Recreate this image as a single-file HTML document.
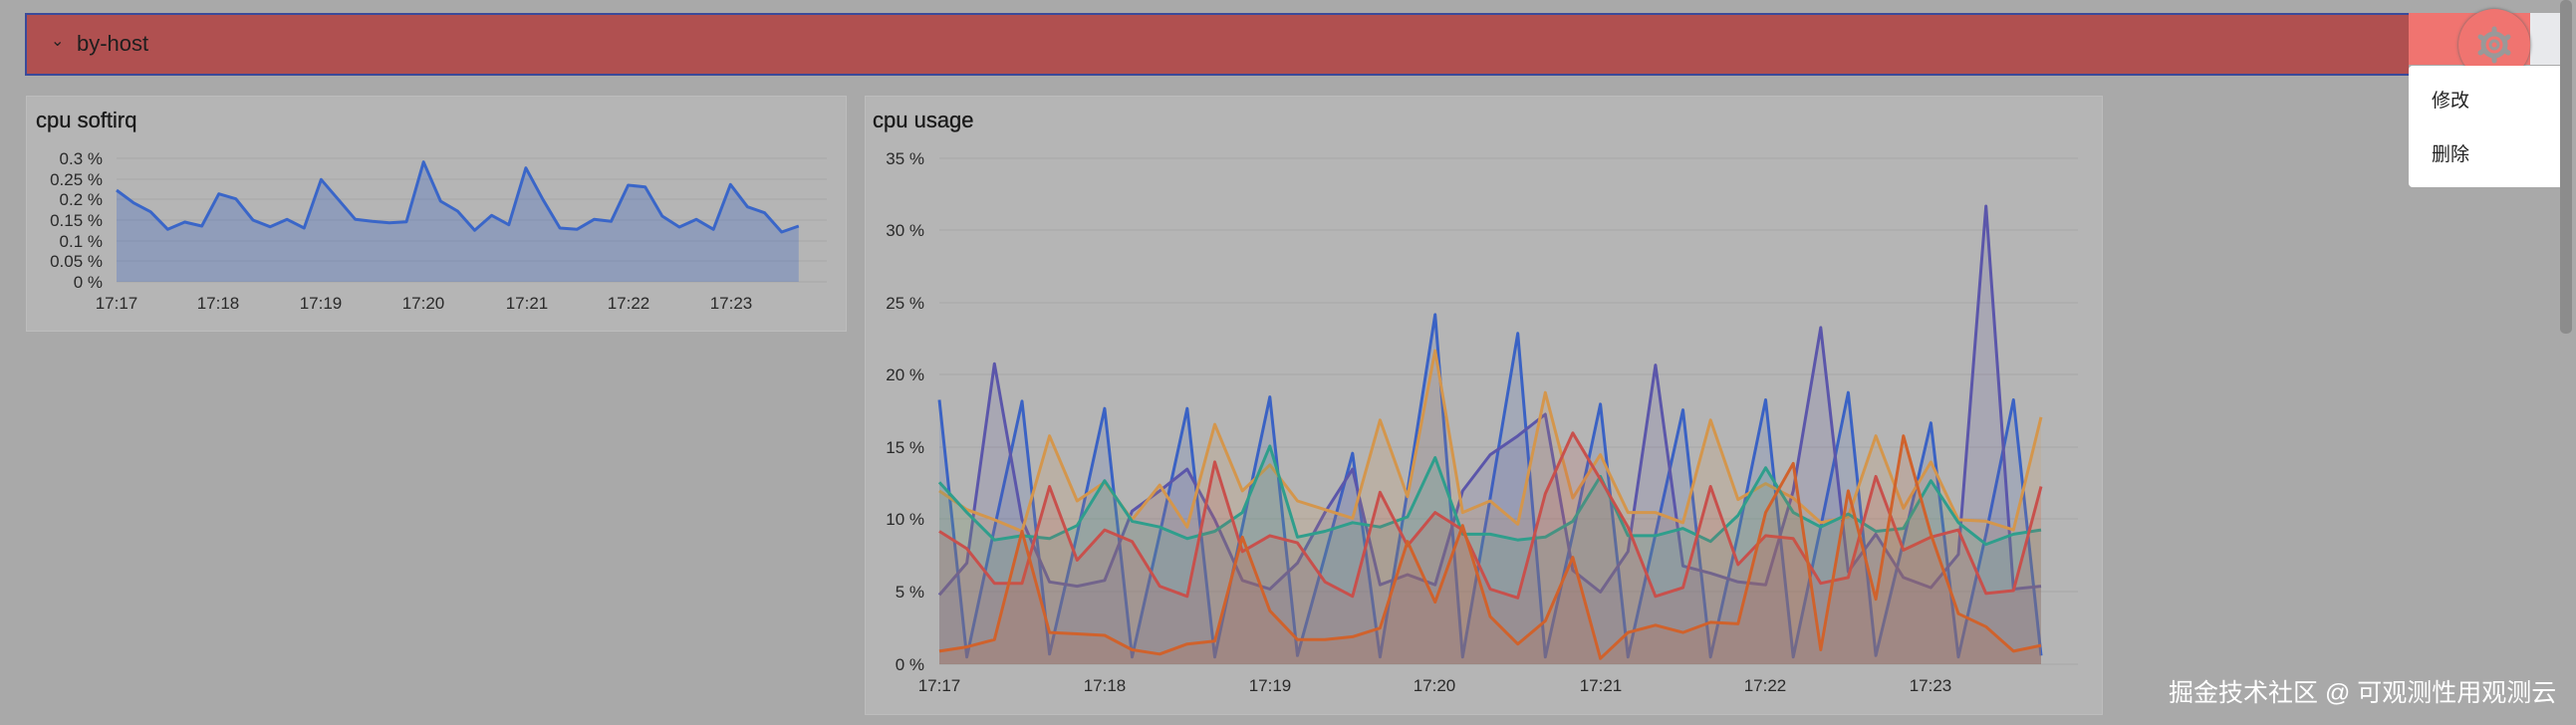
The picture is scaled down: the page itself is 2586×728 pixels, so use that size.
<!DOCTYPE html>
<html><head><meta charset="utf-8"><style>
body{margin:0;width:2586px;height:728px;background:#a9a9a9;position:relative;overflow:hidden;font-family:"Liberation Sans","Noto Sans CJK SC",sans-serif}
.hdr{position:absolute;left:25px;top:13px;width:2393px;height:63px;background:#b05050;border:2px solid #3a4a9a;border-right:none;box-sizing:border-box}
.hdr span{position:absolute;left:50px;top:16px;font-size:22px;color:#1e1e1e}
.hdr i{position:absolute;left:24px;top:16px;font-style:normal;font-size:16px;color:#222}
.pink{position:absolute;left:2418px;top:13px;width:122px;height:52px;background:#f07470}
.lgray{position:absolute;left:2540px;top:13px;width:30px;height:52px;background:#e8e9ec}
.gear{position:absolute;left:2468px;top:9px;width:72px;height:72px;border-radius:50%;background:#f07470;box-shadow:0 0 3px #666}
.menu{position:absolute;left:2418px;top:66px;width:160px;height:122px;background:#fff;border-radius:4px}
.menu div{position:absolute;left:23px;font-size:19px;color:#222}
.sb{position:absolute;left:2570px;top:0;width:12px;height:335px;background:#8c8c8c;border-radius:5px}
.panel{position:absolute;background:#b5b5b5;border:1px solid #bdbdbd}
.title{position:absolute;font-size:22px;color:#1a1a1a;-webkit-text-stroke:0.3px #1a1a1a}
svg text{font-family:"Liberation Sans",sans-serif;font-size:17px;fill:#2a2a2a}
.wm{position:absolute;left:2177px;top:676px;font-size:25px;color:#fff}
</style></head><body>
<div class="hdr"><i>⌄</i><span>by-host</span></div>
<div class="pink"></div><div class="lgray"></div>
<div class="gear"><svg width="72" height="72" viewBox="0 0 72 72"><circle cx="36" cy="36" r="11" fill="none" stroke="#999" stroke-width="5"/><circle cx="36" cy="36" r="4" fill="none" stroke="#999" stroke-width="3"/><g stroke="#999" stroke-width="5" stroke-linecap="round"><line x1="36" y1="20" x2="36" y2="23"/><line x1="36" y1="49" x2="36" y2="52"/><line x1="22" y1="28" x2="25" y2="30"/><line x1="47" y1="42" x2="50" y2="44"/><line x1="22" y1="44" x2="25" y2="42"/><line x1="47" y1="30" x2="50" y2="28"/></g></svg></div>
<div class="menu"><div style="top:20px">修改</div><div style="top:74px">删除</div></div>
<div class="sb"></div>

<div class="panel" style="left:26px;top:96px;width:822px;height:235px"></div>
<div class="title" style="left:36px;top:108px">cpu softirq</div>
<svg id="s1" style="position:absolute;left:0;top:0" width="860" height="340">
<g stroke="#a6a6a6" stroke-width="1">
<line x1="117" x2="830" y1="159" y2="159"/><line x1="117" x2="830" y1="180" y2="180"/><line x1="117" x2="830" y1="200" y2="200"/><line x1="117" x2="830" y1="221" y2="221"/><line x1="117" x2="830" y1="242" y2="242"/><line x1="117" x2="830" y1="262" y2="262"/><line x1="117" x2="830" y1="283" y2="283"/></g>
<g text-anchor="end"><text x="103" y="165">0.3 %</text><text x="103" y="186">0.25 %</text><text x="103" y="206">0.2 %</text><text x="103" y="227">0.15 %</text><text x="103" y="248">0.1 %</text><text x="103" y="268">0.05 %</text><text x="103" y="289">0 %</text></g>
<g text-anchor="middle"><text x="117" y="310">17:17</text><text x="219" y="310">17:18</text><text x="322" y="310">17:19</text><text x="425" y="310">17:20</text><text x="529" y="310">17:21</text><text x="631" y="310">17:22</text><text x="734" y="310">17:23</text></g>
</svg>

<div class="panel" style="left:868px;top:96px;width:1241px;height:620px"></div>
<div class="title" style="left:876px;top:108px">cpu usage</div>
<svg id="s2" style="position:absolute;left:0;top:0" width="2586" height="728">
<g stroke="#a6a6a6" stroke-width="1">
<line x1="943" x2="2086" y1="159" y2="159"/><line x1="943" x2="2086" y1="231" y2="231"/><line x1="943" x2="2086" y1="304" y2="304"/><line x1="943" x2="2086" y1="376" y2="376"/><line x1="943" x2="2086" y1="449" y2="449"/><line x1="943" x2="2086" y1="521" y2="521"/><line x1="943" x2="2086" y1="594" y2="594"/><line x1="943" x2="2086" y1="667" y2="667"/></g>
<g text-anchor="end"><text x="928" y="165">35 %</text><text x="928" y="237">30 %</text><text x="928" y="310">25 %</text><text x="928" y="382">20 %</text><text x="928" y="455">15 %</text><text x="928" y="527">10 %</text><text x="928" y="600">5 %</text><text x="928" y="673">0 %</text></g>
<g text-anchor="middle"><text x="943" y="694">17:17</text><text x="1109" y="694">17:18</text><text x="1275" y="694">17:19</text><text x="1440" y="694">17:20</text><text x="1607" y="694">17:21</text><text x="1772" y="694">17:22</text><text x="1938" y="694">17:23</text></g>
</svg>
<div class="wm">掘金技术社区 @ 可观测性用观测云</div>
<script>
var NS="http://www.w3.org/2000/svg";
function draw(svg,vals,x0,dx,y0,sc,col,fo){
 var pts=vals.map(function(v,i){return (x0+i*dx).toFixed(1)+","+(y0-v*sc).toFixed(1)});
 var a=document.createElementNS(NS,"path");
 a.setAttribute("d","M"+x0+","+y0+" L"+pts.join(" L")+" L"+(x0+(vals.length-1)*dx)+","+y0+"Z");
 a.setAttribute("fill",col);a.setAttribute("fill-opacity",fo);svg.appendChild(a);
 var l=document.createElementNS(NS,"path");
 l.setAttribute("d","M"+pts.join(" L"));l.setAttribute("fill","none");l.setAttribute("stroke",col);l.setAttribute("stroke-width","3");l.setAttribute("stroke-linejoin","round");svg.appendChild(l);
}
var zy=[572,610,637,690,668,680,583,598,662,682,660,686,540,600,660,666,670,667,487,605,635,693,648,676,505,600,686,690,660,666,557,562,650,683,660,690,555,622,640,698,680];
var s1=zy.map(function(z){return (848-z)/3;});
draw(document.getElementById("s1"),s1,117,17.12,283,1,"#3a66c8",0.3);
var S={
blue:[18.3,0.5,9.4,18.2,0.7,9,17.7,0.5,9,17.7,0.5,9.5,18.5,0.6,7.5,14.6,0.5,12,24.2,0.5,11.5,22.9,0.5,9,18,0.5,9,17.6,0.5,9,18.3,0.5,9.5,18.8,0.6,8.5,16.7,0.5,9,18.3,0.6],
purple:[4.8,7,20.8,10,5.7,5.4,5.8,10.6,12,13.5,10,5.8,5.2,7,10.5,13.5,5.5,6.2,5.5,12,14.5,15.8,17.3,6.5,5,7.8,20.7,6.8,6.3,5.7,5.5,12,23.3,6.4,9,6,5.3,7.6,31.7,5.2,5.4],
lor:[12,10.7,10,9.2,15.8,11.3,12.6,10,12.4,9.5,16.6,12,13.8,11.3,10.7,10.1,16.9,11.6,21.7,10.5,11.3,9.7,18.8,11.5,14.5,10.5,10.5,9.8,16.9,11.4,12.5,11.5,9.8,10.2,15.8,10.8,14,10,9.9,9.3,17.1],
teal:[12.6,10.5,8.6,8.9,8.7,9.6,12.7,9.9,9.5,8.7,9.2,10.5,15.1,8.8,9.2,9.8,9.5,10.2,14.3,9,9,8.6,8.8,9.9,13,8.9,8.9,9.4,8.5,10.3,13.6,10.5,9.5,10.4,9.2,9.4,12.7,9.8,8.3,9,9.3],
red:[9.2,8,5.6,5.6,12.3,7.2,9.3,8.5,5.4,4.7,14,7.8,8.9,8.4,5.7,4.7,11.9,8.2,10.5,9.3,5.2,4.6,11.8,16,12.8,9.5,4.7,5.3,12.3,6.9,8.9,8.7,5.6,6,13,7.9,8.8,9.3,4.9,5.1,12.3],
dor:[0.9,1.2,1.7,9.2,2.2,2.1,2,1,0.7,1.4,1.6,8.8,3.7,1.7,1.7,1.9,2.5,8.5,4.3,9.6,3.3,1.4,3,7.4,0.4,2.2,2.7,2.2,2.9,2.8,10.5,13.9,1,12,4.5,15.8,9,3.5,2.6,0.9,1.3]};
var s2=document.getElementById("s2");
[["blue","#3a62c4"],["purple","#5b56aa"],["lor","#d4964c"],["teal","#2f9e8c"],["red","#c8504c"],["dor","#d0622c"]].forEach(function(c){draw(s2,S[c[0]],943,27.65,667,14.51,c[1],0.15);});
</script>
</body></html>
